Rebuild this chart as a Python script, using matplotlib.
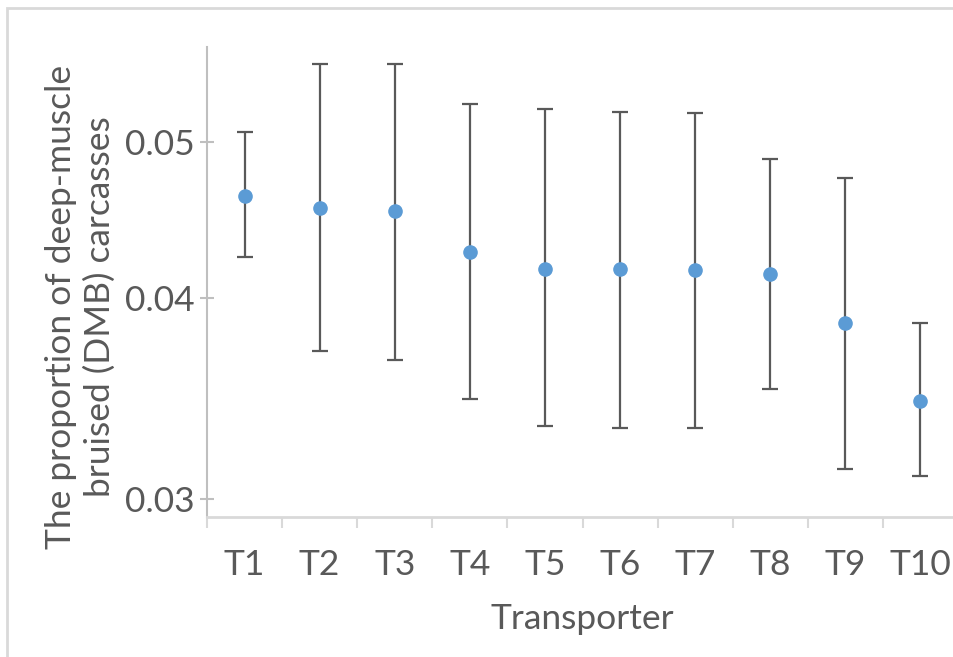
import matplotlib.pyplot as plt
from matplotlib.patches import Rectangle
from matplotlib.ticker import FixedLocator, NullLocator, NullFormatter

plt.rcParams['font.family'] = ['Lato', 'DejaVu Sans']

transporters = ["T1", "T2", "T3", "T4", "T5", "T6", "T7", "T8", "T9", "T10"]
proportion = [0.0463, 0.0455, 0.0453, 0.0427, 0.0417, 0.0417, 0.0416, 0.0414, 0.0386, 0.0345]
upper = [0.0507, 0.0559, 0.0559, 0.0528, 0.0524, 0.0522, 0.0521, 0.0488, 0.0475, 0.0386]
lower = [0.0424, 0.0371, 0.0366, 0.0346, 0.0333, 0.0332, 0.0332, 0.0351, 0.0313, 0.0310]

text_col = "#595959"
axis_col = "#BFBFBF"
fs = 25.5

x = list(range(1, len(transporters) + 1))
err_lo = [p - l for p, l in zip(proportion, lower)]
err_hi = [u - p for u, p in zip(upper, proportion)]

fig = plt.figure(figsize=(9.54, 6.57), dpi=100)
fig.patches.append(Rectangle((7 / 954, -0.1), 1.2, 1.1 - 8 / 657, transform=fig.transFigure,
                             fill=False, edgecolor="#D9D9D9", linewidth=2))

ax = fig.add_axes([207 / 954, 1 - 517 / 657, 751 / 954, 470 / 657])
ax.errorbar(x, proportion, yerr=[err_lo, err_hi], fmt="none", ecolor="#595959",
            elinewidth=1.6, capsize=6, capthick=1.6, zorder=2)
ax.plot(x, proportion, "o", color="#5B9BD5", markersize=9.5, zorder=3)

ax.set_yscale("log")
ax.set_ylim(0.02924, 0.05726)
ax.set_xlim(0.5, 10.5)

ax.yaxis.set_major_locator(FixedLocator([0.03, 0.04, 0.05]))
ax.yaxis.set_minor_locator(NullLocator())
ax.yaxis.set_minor_formatter(NullFormatter())
ax.set_yticklabels(["0.03", "0.04", "0.05"])

ax.set_xticks(x)
ax.set_xticklabels(transporters)
ax.set_xticks([i + 0.5 for i in range(0, 11)], minor=True)
ax.tick_params(axis="x", which="major", length=0, pad=23, labelsize=fs, labelcolor=text_col)
ax.tick_params(axis="x", which="minor", length=8, width=1.5, color="#D9D9D9", direction="out")
ax.tick_params(axis="y", which="major", length=10, width=1.5, color=axis_col, direction="inout",
               pad=4, labelsize=fs, labelcolor=text_col)

for side in ("top", "right"):
    ax.spines[side].set_visible(False)
ax.spines["left"].set_color(axis_col)
ax.spines["left"].set_linewidth(1.5)
ax.spines["bottom"].set_color("#D9D9D9")
ax.spines["bottom"].set_linewidth(2)

ax.set_xlabel("Transporter", fontsize=fs, color=text_col)
ax.xaxis.set_label_coords((582 - 207) / 751, -(603 - 517) / 470)
ax.set_ylabel("The proportion of deep-muscle\nbruised (DMB) carcasses", fontsize=fs,
              color=text_col, linespacing=1.25)
ax.yaxis.set_label_coords(-(207 - 116) / 751, (517 - 307) / 470)

fig.savefig("out.png", dpi=100)
